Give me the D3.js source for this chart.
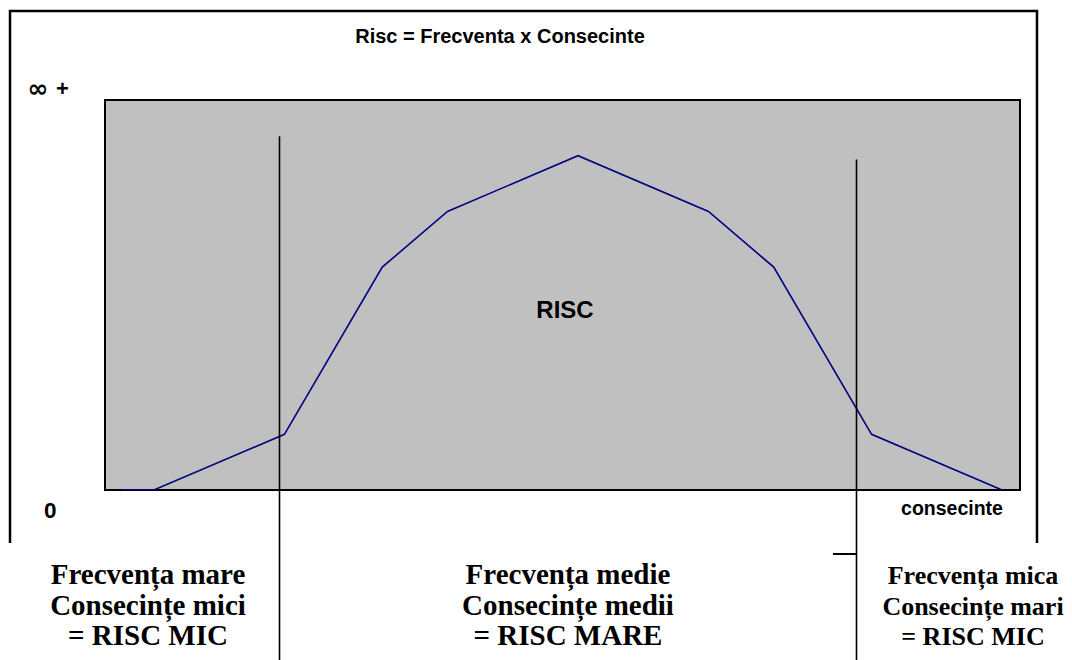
<!DOCTYPE html>
<html>
<head>
<meta charset="utf-8">
<script src="https://cdn.jsdelivr.net/npm/d3@7"></script>
<style>
  body { margin: 0; background: #fff; }
  svg { display: block; }
</style>
</head>
<body>
<svg id="visualisation"></svg>
<script>
// consequence steps along x, risk level along y
var consecinte = [0, 1, 5, 8, 10, 14, 18, 20, 23, 27];
var risc = [0, 0, 1, 4, 5, 6, 5, 4, 1, 0];

// vertical separators between zones (x position, top of line in risk units)
var sepX = [4.83, 22.53];
var sepTop = [6.35, 5.93];

var zoneLines = [
  ["Frecvența mare", "Consecințe mici", "= RISC MIC"],
  ["Frecvența medie", "Consecințe medii", "= RISC MARE"],
  ["Frecvența mica", "Consecințe mari", "= RISC MIC"]
];
var zoneCenter = [148, 568, 973];
var zoneSize = [29, 29, 26];

var WIDTH = 1072,
    HEIGHT = 660,
    PLOT = { left: 105, right: 1020, top: 100, bottom: 490 };

var vis = d3.select("#visualisation")
    .attr("width", WIDTH)
    .attr("height", HEIGHT);

var xScale = d3.scaleLinear().domain([-0.5, 27.55]).range([PLOT.left, PLOT.right]),
    yScale = d3.scaleLinear().domain([0, 7]).range([PLOT.bottom, PLOT.top]);

// outer frame, open at the bottom
vis.append("path")
    .attr("d", "M10,543 V11 H1037 V543")
    .attr("fill", "none")
    .attr("stroke", "#000")
    .attr("stroke-width", 2.5);

// plot area
vis.append("rect")
    .attr("x", xScale.range()[0])
    .attr("y", yScale.range()[1])
    .attr("width", xScale.range()[1] - xScale.range()[0])
    .attr("height", yScale.range()[0] - yScale.range()[1])
    .attr("fill", "#c0c0c0")
    .attr("stroke", "#000")
    .attr("stroke-width", 2);

var lineGen = d3.line()
    .x(function (d, i) { return xScale(consecinte[i]); })
    .y(function (d) { return yScale(d); });

vis.append("path")
    .attr("d", lineGen(risc))
    .attr("fill", "none")
    .attr("stroke", "#000080")
    .attr("stroke-width", 1.6);

vis.selectAll(".sep")
    .data(sepX)
  .enter().append("line")
    .attr("class", "sep")
    .attr("x1", function (d) { return Math.round(xScale(d)) + 0.5; })
    .attr("x2", function (d) { return Math.round(xScale(d)) + 0.5; })
    .attr("y1", function (d, i) { return yScale(sepTop[i]); })
    .attr("y2", HEIGHT)
    .attr("stroke", "#000")
    .attr("stroke-width", 1.6);

// little dash left of the right separator
vis.append("line")
    .attr("x1", 833).attr("x2", xScale(sepX[1]))
    .attr("y1", 554).attr("y2", 554)
    .attr("stroke", "#000")
    .attr("stroke-width", 2);

var sans = "'Liberation Sans', Arial, sans-serif";

vis.append("text")
    .attr("x", 500).attr("y", 43)
    .attr("text-anchor", "middle")
    .style("font", "bold 20px " + sans)
    .text("Risc = Frecventa x Consecinte");

vis.append("text")
    .attr("x", 38).attr("y", 97)
    .attr("text-anchor", "middle")
    .style("font", "bold 25px 'DejaVu Sans', sans-serif")
    .text("∞");

vis.append("text")
    .attr("x", 56).attr("y", 96)
    .style("font", "bold 22px " + sans)
    .text("+");

vis.append("text")
    .attr("x", 44).attr("y", 518)
    .style("font", "bold 22.5px " + sans)
    .text("0");

vis.append("text")
    .attr("x", 952).attr("y", 515)
    .attr("text-anchor", "middle")
    .style("font", "bold 19.5px " + sans)
    .text("consecinte");

vis.append("text")
    .attr("x", 565).attr("y", 318)
    .attr("text-anchor", "middle")
    .style("font", "bold 24px " + sans)
    .text("RISC");

zoneLines.forEach(function (lines, z) {
  var t = vis.append("text")
      .attr("text-anchor", "middle")
      .style("font-family", "'Liberation Serif', 'Times New Roman', serif")
      .style("font-weight", "bold")
      .style("font-size", zoneSize[z] + "px");
  lines.forEach(function (s, i) {
    t.append("tspan")
        .attr("x", zoneCenter[z])
        .attr("y", 584 + i * 30.5)
        .text(s);
  });
});
</script>
</body>
</html>
